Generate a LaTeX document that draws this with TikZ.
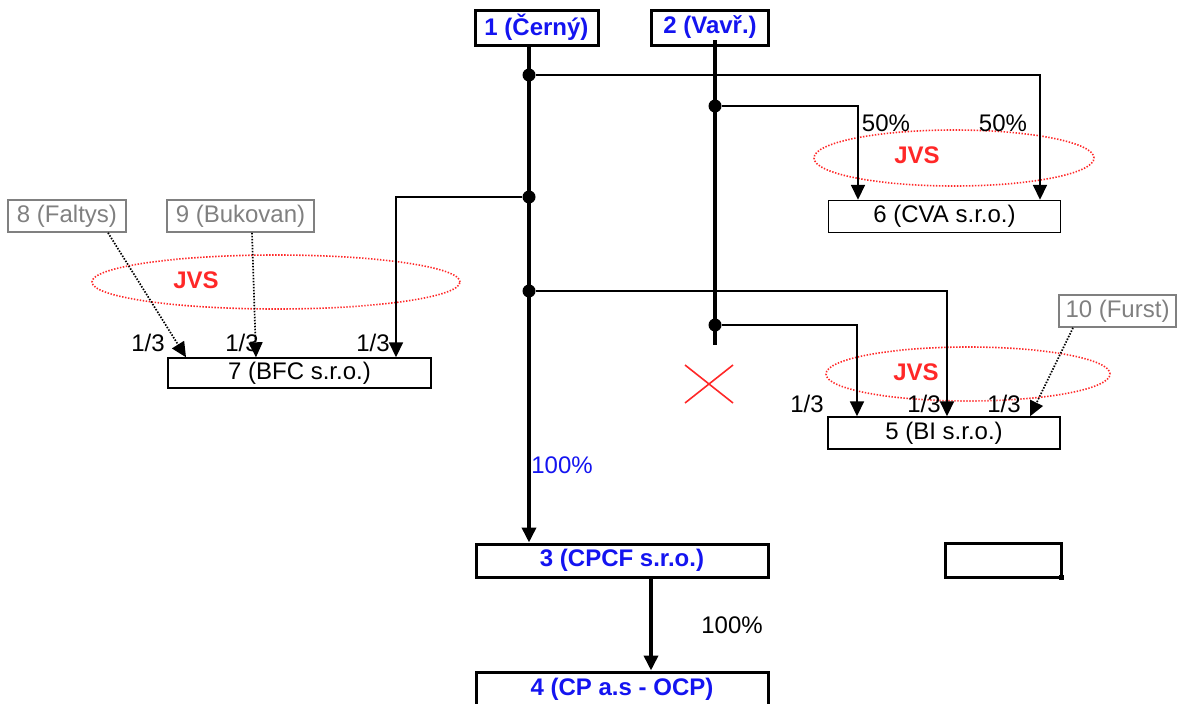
\documentclass[tikz,border=0pt]{standalone}
\usepackage{fontspec}
\setmainfont{Liberation Sans}
\usetikzlibrary{arrows.meta,calc}
\definecolor{blu}{RGB}{20,20,240}
\definecolor{gry}{RGB}{128,128,128}
\definecolor{rd}{RGB}{255,40,40}
\begin{document}
\begin{tikzpicture}[x=1pt,y=-1pt,
 txt/.style={font=\fontsize{24}{28}\selectfont, inner sep=0pt},
 bbox/.style={draw, line width=3pt, inner sep=0pt, text=blu, font=\fontsize{24}{28}\selectfont\bfseries},
 nbox/.style={txt, draw, line width=1.4pt},
 gbox/.style={txt, draw=gry, line width=1.6pt, text=gry},
 jvs/.style={draw=rd, line width=1.6pt, dash pattern=on 1.4pt off 1.6pt},
 jvstxt/.style={inner sep=0pt, text=rd, font=\fontsize{24}{28}\selectfont\bfseries},
 thickln/.style={line width=3.6pt},
 thinln/.style={line width=1.7pt},
 dotln/.style={line width=1.7pt, dash pattern=on 1.5pt off 1.5pt},
 tip/.style={-{Triangle[length=15pt,width=14pt]}},
 dot/.style={circle, fill, inner sep=0pt, minimum size=13pt}
]
\useasboundingbox (0,0) rectangle (1184,704);
% boxes
\node[bbox, minimum width=123pt, minimum height=35pt] (b1) at (536.5,27.5) {1 (Černý)};
\node[bbox, minimum width=117pt, minimum height=35pt] (b2) at (710,27.5) {2 (Vavř.)};
\node[nbox, minimum width=232pt, minimum height=32pt] (b6) at (944.5,216.5) {6 (CVA s.r.o.)};
\node[nbox, minimum width=263pt, minimum height=30pt] (b7) at (299.5,373) {7 (BFC s.r.o.)};
\node[gbox, minimum width=118pt, minimum height=32pt] (b8) at (67,216) {8 (Faltys)};
\node[gbox, minimum width=147pt, minimum height=32pt] (b9) at (240.5,216) {9 (Bukovan)};
\node[gbox, minimum width=117pt, minimum height=32pt] (b10) at (1117.5,311) {10 (Furst)};
\node[nbox, minimum width=232pt, minimum height=32pt] (b5) at (944,433) {5 (BI s.r.o.)};
\node[bbox, minimum width=292pt, minimum height=33pt] (b3) at (622,560.5) {3 (CPCF s.r.o.)};
\node[bbox, minimum width=116pt, minimum height=34pt] (bx) at (1003,560) {};
\node[bbox, minimum width=292pt, minimum height=34pt] (b4) at (622,689) {4 (CP a.s - OCP)};
\fill (1059,575) rectangle (1064,580);
% ellipses
\draw[jvs] (954,158) ellipse [x radius=140pt, y radius=28pt];
\draw[jvs] (276,282) ellipse [x radius=184pt, y radius=27pt];
\draw[jvs] (968,374) ellipse [x radius=142pt, y radius=27pt];
% labels
\node[jvstxt] (j1) at (917,155) {JVS};
\node[jvstxt] (j2) at (196,280) {JVS};
\node[jvstxt] (j3) at (916,372) {JVS};
\node[txt] (p50a) at (886,123) {50\%};
\node[txt] (p50b) at (1003,123) {50\%};
\node[txt] (q1) at (148,343) {1/3};
\node[txt] (q2) at (242,343) {1/3};
\node[txt] (q3) at (373,343) {1/3};
\node[txt] (q4) at (807,404) {1/3};
\node[txt] (q5) at (924,404) {1/3};
\node[txt] (q6) at (1004,404) {1/3};
\node[txt, text=blu] (p100a) at (562,465) {100\%};
\node[txt] (p100b) at (732,625) {100\%};
% junction dots
\node[dot] (d1) at (529,75) {};
\node[dot] (d2) at (529,197) {};
\node[dot] (d3) at (529,291) {};
\node[dot] (e1) at (715,106) {};
\node[dot] (e2) at (715,325) {};
\coordinate (v2top) at (715,40);
\coordinate (v2bot) at (715,345);
\coordinate (x6a) at (858,0);
\coordinate (x6b) at (1040,0);
\coordinate (x7a) at (186,0);
\coordinate (x7b) at (256,0);
\coordinate (x7c) at (396,0);
\coordinate (x5a) at (857,0);
\coordinate (x5b) at (947,0);
\coordinate (x5c) at (1030,0);
\coordinate (x8s) at (108,0);
\coordinate (x9s) at (252,0);
\coordinate (x10s) at (1073,0);
\coordinate (x34) at (651,0);
% connectors
\draw[thickln,tip] (d1 |- b1.south) -- (d1 |- b3.north);
\draw[thickln] (v2top) -- (v2bot);
\draw[thinln,tip] (d1) -| (x6b |- b6.north);
\draw[thinln,tip] (e1) -| (x6a |- b6.north);
\draw[thinln,tip] (d2) -| (x7c |- b7.north);
\draw[thinln,tip] (d3) -| (x5b |- b5.north);
\draw[thinln,tip] (e2) -| (x5a |- b5.north);
\draw[thickln,tip] (x34 |- b3.south) -- (x34 |- b4.north);
\draw[dotln,tip] (x8s |- b8.south) -- (x7a |- b7.north);
\draw[dotln,tip] (x9s |- b9.south) -- (x7b |- b7.north);
\draw[dotln,tip] (x10s |- b10.south) -- (x5c |- b5.north);
% red cross
\draw[rd, line width=1.6pt] (685,365) -- (733,403) (685,403) -- (733,365);
\end{tikzpicture}
\end{document}
